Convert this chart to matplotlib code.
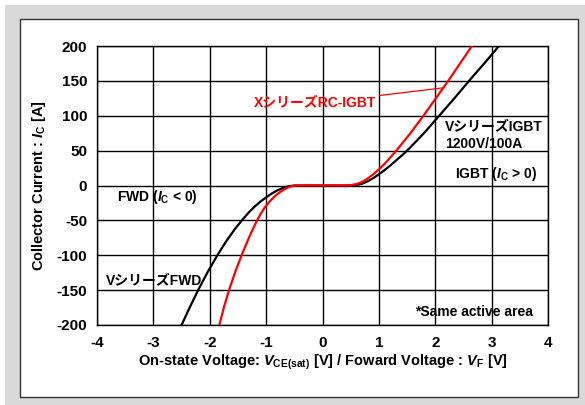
import matplotlib
matplotlib.use("Agg")
import matplotlib.pyplot as plt
from matplotlib.patches import Rectangle

plt.rcParams['font.family'] = ['Liberation Sans', 'Noto Sans CJK JP', 'DejaVu Sans']
plt.rcParams['font.weight'] = 'bold'
plt.rcParams['mathtext.fontset'] = 'custom'
plt.rcParams['mathtext.rm'] = 'Liberation Sans:bold'
plt.rcParams['mathtext.it'] = 'Liberation Sans:italic:bold'
plt.rcParams['mathtext.bf'] = 'Liberation Sans:bold'

# V series (black): voltage [V], current [A]
v_series_v = [-2.50, -2.35, -2.20, -2.03, -1.85, -1.70, -1.55, -1.42, -1.30, -1.20, -1.10,
              -1.00, -0.90, -0.80, -0.70, -0.60, -0.50,
              0.0, 0.50, 0.60, 0.70, 0.80, 0.90, 1.00, 1.10, 1.20, 1.30, 1.42, 1.55,
              1.80, 2.07, 2.35, 2.62, 2.88, 3.13]
v_series_i = [-200, -174, -149, -123, -98, -79, -62, -49, -38, -30, -23,
              -17, -11.5, -7, -3.5, -1, 0,
              0, 0, 0.7, 2.5, 6, 10.5, 16, 22, 28.5, 35.5, 44, 54,
              75, 100, 126, 152, 176, 200]

# X series RC-IGBT (red)
x_series_v = [-1.83, -1.74, -1.65, -1.54, -1.42, -1.29, -1.18, -1.10, -1.02, -0.94, -0.86,
              -0.78, -0.70, -0.62, -0.55, -0.48,
              0.0, 0.42, 0.50, 0.60, 0.70, 0.80, 0.90, 1.00, 1.10, 1.20, 1.32, 1.44,
              1.56, 1.79, 2.23, 2.65]
x_series_i = [-200, -172, -148, -122, -97, -72, -53, -41, -31, -23, -16.5,
              -11, -6.5, -3, -1, 0,
              0, 0, 0.5, 2, 5, 10, 16, 23, 31, 40, 51, 63,
              75, 100, 150, 200]

x_ticks = [-4, -3, -2, -1, 0, 1, 2, 3, 4]
y_ticks = [-200, -150, -100, -50, 0, 50, 100, 150, 200]

W, H = 585, 405
fig = plt.figure(figsize=(W / 100, H / 100), dpi=100, facecolor='white')

# background frame
fig.patches.append(Rectangle((5 / W, 0), 1 - 5 / W, 1 - 5 / H, transform=fig.transFigure,
                             facecolor='#d9d9d9', edgecolor='none', zorder=0))
fig.patches.append(Rectangle((20 / W, 1 - 397 / H), (578 - 20) / W, (397 - 19) / H,
                             transform=fig.transFigure, facecolor='white',
                             edgecolor='#333333', linewidth=1.0, zorder=1))

ax = fig.add_axes([97 / W, 1 - 325 / H, 451 / W, 279 / H])
ax.set_zorder(2)
ax.set_xlim(-4, 4)
ax.set_ylim(-200, 200)
ax.set_xticks(x_ticks)
ax.set_yticks(y_ticks)
ax.set_xticklabels([str(t) for t in x_ticks])
ax.set_yticklabels([str(t) for t in y_ticks])
ax.tick_params(length=0, labelsize=11, pad=8)
ax.tick_params(axis='y', pad=7)
for lab in ax.get_xticklabels() + ax.get_yticklabels():
    lab.set_fontweight('bold')
ax.grid(True, color='black', linewidth=1.0)
for s in ax.spines.values():
    s.set_color('black')
    s.set_linewidth(1.0)

ax.plot(v_series_v, v_series_i, color='black', linewidth=1.6, zorder=3,
        solid_joinstyle='round')
ax.plot(x_series_v, x_series_i, color='#ff0000', linewidth=1.6, zorder=4,
        solid_joinstyle='round')

ax.set_xlabel(r"On-state Voltage: $\mathit{V}_{\mathrm{CE(sat)}}$ [V] / Foward Voltage : $\mathit{V}_{\mathrm{F}}$ [V]",
              fontsize=10.5, fontweight='bold', labelpad=2)
ax.set_ylabel(r"Collector Current : $\mathit{I}_{\mathrm{C}}$ [A]", fontsize=10.5,
              fontweight='bold', labelpad=6)

ax.annotate("XシリーズRC-IGBT", xy=(2.14, 140), xytext=(0.96, 118),
            color='#ff0000', fontsize=10, fontweight='bold', ha='right', va='center',
            arrowprops=dict(arrowstyle='-', color='#ff0000', linewidth=0.9,
                            shrinkA=0, shrinkB=0), zorder=5)
ax.text(2.17, 83, "VシリーズIGBT", fontsize=10, fontweight='bold', ha='left', va='center', zorder=5)
ax.text(2.17, 60, "1200V/100A", fontsize=10, fontweight='bold', ha='left', va='center', zorder=5)
ax.text(3.81, 16, r"IGBT ($\mathit{I}_{\mathrm{C}}$ > 0)", fontsize=10, fontweight='bold',
        ha='right', va='center', zorder=5)
ax.text(-3.64, -16, r"FWD ($\mathit{I}_{\mathrm{C}}$ < 0)", fontsize=10, fontweight='bold',
        ha='left', va='center', zorder=5)
ax.text(-3.85, -137, "VシリーズFWD", fontsize=10, fontweight='bold', ha='left', va='center', zorder=5)
ax.text(3.74, -181, "*Same active area", fontsize=10, fontweight='bold', ha='right',
        va='center', zorder=5)

fig.savefig("out.png", dpi=100, facecolor='white')
